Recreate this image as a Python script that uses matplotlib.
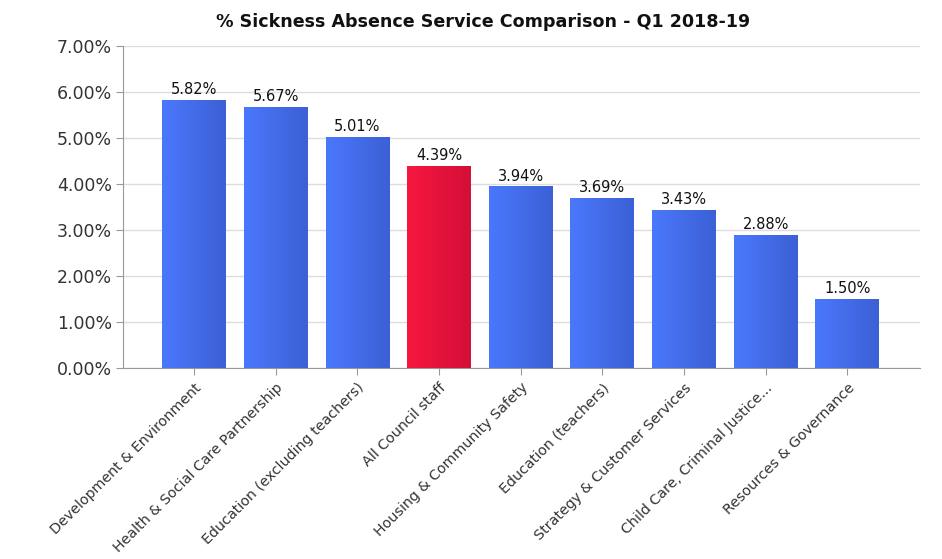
import matplotlib
matplotlib.use("Agg")
import matplotlib.pyplot as plt
import numpy as np
from matplotlib.colors import LinearSegmentedColormap

categories = ["Development & Environment", "Health & Social Care Partnership",
              "Education (excluding teachers)", "All Council staff",
              "Housing & Community Safety", "Education (teachers)",
              "Strategy & Customer Services", "Child Care, Criminal Justice...",
              "Resources & Governance"]
values = [5.82, 5.67, 5.01, 4.39, 3.94, 3.69, 3.43, 2.88, 1.50]
highlight = "All Council staff"
yticks = [0, 1, 2, 3, 4, 5, 6, 7]

fig = plt.figure(figsize=(9.42, 5.59), dpi=100)
ax = fig.add_axes([123/942, 1-368/559, (920-123)/942, (368-46)/559])

x = np.arange(len(categories))
width = 0.78
blue = LinearSegmentedColormap.from_list("b", ["#4a78fc", "#3c60d6"])
red = LinearSegmentedColormap.from_list("r", ["#f7173f", "#d40f38"])
grad = np.linspace(0, 1, 64).reshape(1, -1)

bars = ax.bar(x, values, width=width, color="none", edgecolor="none", zorder=3)
for b, cat, v in zip(bars, categories, values):
    cmap = red if cat == highlight else blue
    x0, y0 = b.get_x(), b.get_y()
    ax.imshow(grad, cmap=cmap, aspect="auto", extent=[x0, x0 + b.get_width(), y0, y0 + b.get_height()],
              zorder=3, interpolation="bicubic")
    ax.text(b.get_x() + b.get_width()/2, v + 0.07, f"{v:.2f}%", ha="center", va="bottom",
            fontsize=10.5, color="#111111", zorder=4)

ax.set_xlim(-0.87, len(categories) - 1 + 0.89)
ax.set_ylim(0, 7)
ax.set_yticks(yticks)
ax.set_yticklabels([f"{t:.2f}%" for t in yticks], fontsize=12.5, color="#333333")
ax.set_xticks(x)
ax.set_xticklabels(categories, rotation=45, ha="right", rotation_mode="anchor",
                   fontsize=10.3, color="#333333")
ax.yaxis.grid(True, color="#dddddd", linewidth=1, zorder=0)
ax.set_axisbelow(True)
for s in ["top", "right"]:
    ax.spines[s].set_visible(False)
ax.spines["left"].set_color("#999999")
ax.spines["bottom"].set_color("#999999")
ax.tick_params(axis="y", length=5, color="#999999", pad=3)
ax.tick_params(axis="x", length=5, color="#999999", pad=4)

fig.text(483/942, 1-22/559, "% Sickness Absence Service Comparison - Q1 2018-19",
         ha="center", va="center", fontsize=12.6, fontweight="bold", color="#111111")

fig.savefig("out.png", dpi=100, facecolor="white")
